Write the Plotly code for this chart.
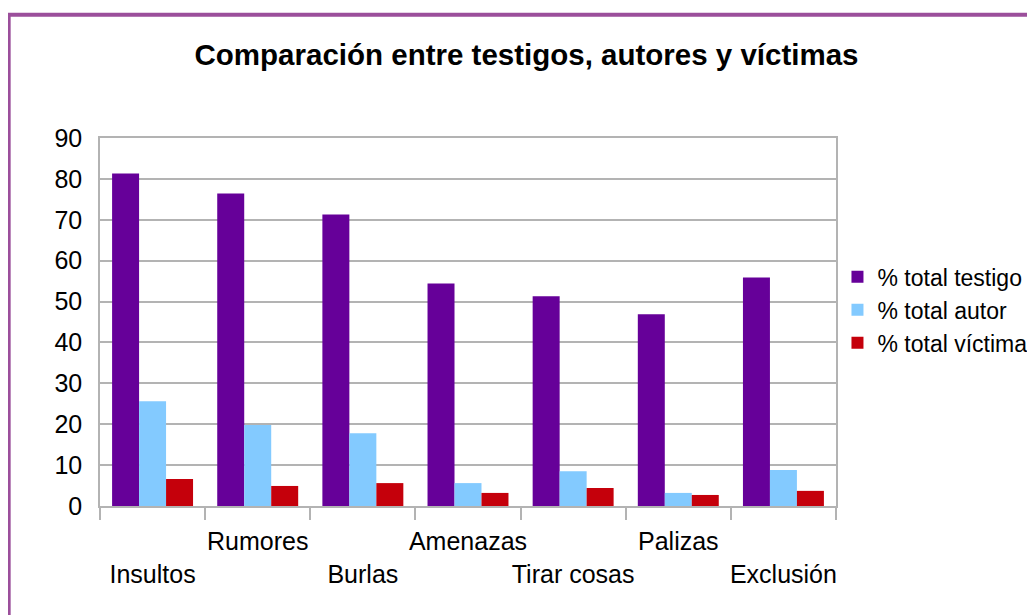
import plotly.graph_objects as go

categories = ["Insultos", "Rumores", "Burlas", "Amenazas", "Tirar cosas", "Palizas", "Exclusión"]
testigo = [81.3, 76.4, 71.3, 54.4, 51.3, 46.9, 55.9]
autor = [25.6, 19.8, 17.8, 5.6, 8.5, 3.2, 8.8]
victima = [6.6, 4.9, 5.6, 3.2, 4.4, 2.7, 3.7]
series_names = ["% total testigo", "% total autor", "% total víctima"]
colors = ["#660099", "#83CAFF", "#C5000B"]
y_ticks = list(range(0, 91, 10))

# staggered category labels (upper row / lower row)
tick_text = [c if i % 2 == 1 else "<br>" + c for i, c in enumerate(categories)]

FONT = "Liberation Sans, Arial, sans-serif"

fig = go.Figure()
for name, vals, col in zip(series_names, [testigo, autor, victima], colors):
    fig.add_trace(go.Bar(x=categories, y=vals, name=name, marker=dict(color=col, line=dict(width=0))))

fig.update_layout(
    width=1035, height=615,
    margin=dict(l=92, r=207, t=130, b=117, autoexpand=False),
    paper_bgcolor="white", plot_bgcolor="white",
    barmode="group", bargap=0.23, bargroupgap=0,
    font=dict(family=FONT, color="black", size=25),
    title=dict(text="<b>Comparación entre testigos, autores y víctimas</b>",
               x=0.501, xanchor="center", y=0.9236, yanchor="middle",
               font=dict(family=FONT, size=29.5, color="black")),
    legend=dict(x=1.002, xanchor="left", y=0.681, yanchor="top",
                font=dict(family=FONT, size=23, color="black"),
                bgcolor="rgba(0,0,0,0)", tracegroupgap=0, itemsizing="constant"),
    showlegend=True,
)
fig.update_xaxes(
    type="category", categoryorder="array", categoryarray=categories,
    tickmode="array", tickvals=categories, ticktext=tick_text,
    tickson="boundaries", ticks="outside", ticklen=12, tickcolor="#B3B3B3", tickwidth=1.5,
    showline=True, linecolor="#B3B3B3", linewidth=2, mirror=True,
    showgrid=False, tickfont=dict(family=FONT, size=25, color="black"),
    tickangle=0, ticklabelstandoff=12,
)
fig.update_yaxes(
    range=[0, 90], tickmode="array", tickvals=y_ticks,
    showgrid=True, gridcolor="#B3B3B3", gridwidth=1.5,
    showline=True, linecolor="#B3B3B3", linewidth=1.5, mirror=True,
    ticks="", zeroline=False, tickfont=dict(family=FONT, size=25, color="black"),
    ticklabelstandoff=11,
)
# outer purple frame (extends past right/bottom edges)
fig.add_shape(type="rect", xref="paper", yref="paper",
              x0=-0.1241, x1=1.5, y0=-0.5, y1=1.335,
              line=dict(color="#9B4F9B", width=4), fillcolor="rgba(0,0,0,0)", layer="below")

fig.write_html("out.html")
